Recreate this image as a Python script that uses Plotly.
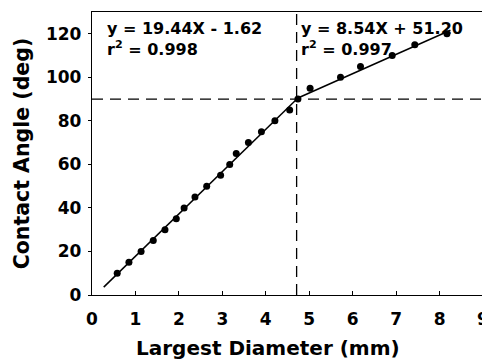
import plotly.graph_objects as go

# Measured points
diam = [0.58, 0.85, 1.13, 1.41, 1.68, 1.94, 2.12, 2.37, 2.64, 2.96, 3.17, 3.32, 3.60, 3.90, 4.21, 4.55, 4.74,
        5.02, 5.72, 6.18, 6.91, 7.43, 8.17]
angle = [10, 15, 20, 25, 30, 35, 40, 45, 50, 55, 60, 65, 70, 75, 80, 85, 90,
         95, 100, 105, 110, 115, 120]

# Fitted lines (endpoints)
fit1_x = [0.27, 4.74]
fit1_y = [3.6, 90.5]
fit2_x = [4.74, 8.25]
fit2_y = [90.5, 121.6]

# Reference lines
ref_x = 4.71
ref_y = 90

eq1 = "<b>y = 19.44X - 1.62<br>r<sup>2</sup> = 0.998</b>"
eq2 = "<b>y = 8.54X + 51.20<br>r<sup>2</sup> = 0.997</b>"
x_title = "<b>Largest Diameter (mm)</b>"
y_title = "<b>Contact Angle (deg)</b>"

FONT = "DejaVu Sans"

fig = go.Figure()
fig.add_trace(go.Scatter(x=[ref_x, ref_x], y=[0, 130], mode="lines",
                         line=dict(color="black", width=1.3, dash="11px,7px"), showlegend=False))
fig.add_trace(go.Scatter(x=[0, 9], y=[ref_y, ref_y], mode="lines",
                         line=dict(color="black", width=1.3, dash="11px,7px"), showlegend=False))
fig.add_trace(go.Scatter(x=fit1_x, y=fit1_y, mode="lines",
                         line=dict(color="black", width=1.5), showlegend=False))
fig.add_trace(go.Scatter(x=fit2_x, y=fit2_y, mode="lines",
                         line=dict(color="black", width=1.5), showlegend=False))
fig.add_trace(go.Scatter(x=diam, y=angle, mode="markers",
                         marker=dict(color="black", size=7), showlegend=False))

fig.add_annotation(x=0.3, y=127.5, xref="x", yref="y", text=eq1, showarrow=False,
                   xanchor="left", yanchor="top", align="left",
                   font=dict(family=FONT, size=16, color="black"))
fig.add_annotation(x=4.77, y=127.5, xref="x", yref="y", text=eq2, showarrow=False,
                   xanchor="left", yanchor="top", align="left",
                   font=dict(family=FONT, size=16, color="black"))

# Axis titles (placed as in the reference)
fig.add_annotation(x=0.4496, y=-0.187, xref="paper", yref="paper", text=x_title, showarrow=False,
                   xanchor="center", yanchor="middle",
                   font=dict(family=FONT, size=20, color="black"))
fig.add_annotation(x=-0.178, y=0.502, xref="paper", yref="paper", text=y_title, showarrow=False,
                   textangle=-90, xanchor="center", yanchor="middle",
                   font=dict(family=FONT, size=20.5, color="black"))

fig.update_layout(
    width=482, height=353,
    margin=dict(l=84, r=6.5, t=4, b=66),
    paper_bgcolor="white", plot_bgcolor="white",
    font=dict(family=FONT, color="black"),
    xaxis=dict(range=[0, 9], dtick=1, showgrid=False, zeroline=False, automargin=False,
               showline=True, linecolor="black", linewidth=1.3, mirror=True,
               ticks="inside", ticklen=4, tickcolor="black", ticklabelstandoff=8,
               tickfont=dict(family=FONT, size=17, color="black", weight="bold")),
    yaxis=dict(range=[0, 130], dtick=20, showgrid=False, zeroline=False, automargin=False,
               showline=True, linecolor="black", linewidth=1.3, mirror=True,
               ticks="outside", ticklen=3, tickcolor="black", ticklabelstandoff=3,
               tickfont=dict(family=FONT, size=17, color="black", weight="bold")),
)

fig.write_html("out.html")
